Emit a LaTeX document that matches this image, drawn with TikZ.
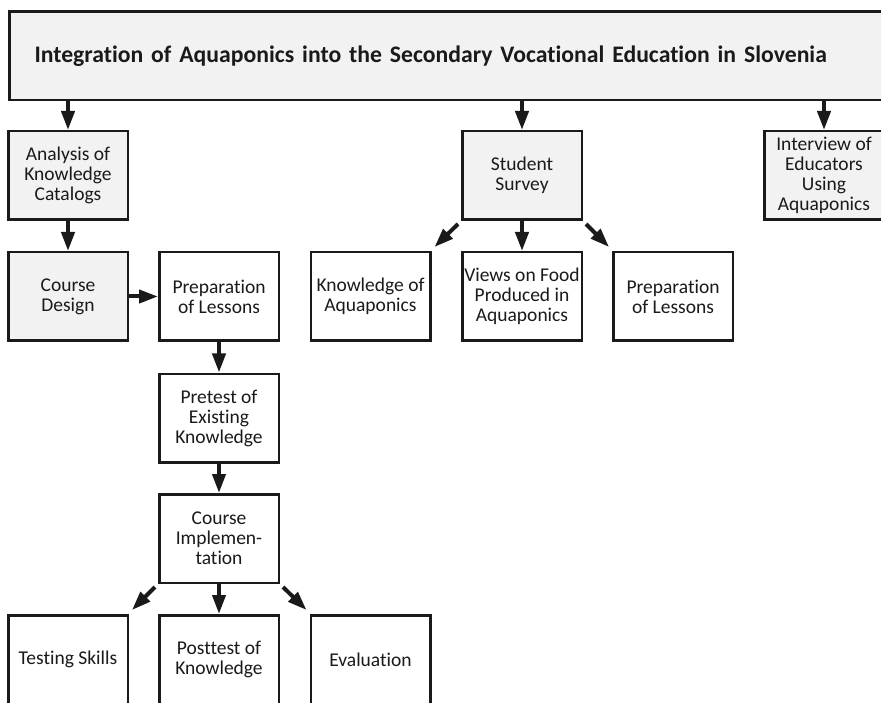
\documentclass[tikz,border=0pt]{standalone}
\usepackage{fontspec}
\setmainfont{Carlito}[Ligatures={NoCommon,NoContextual},Contextuals=NoAlternate]
\usetikzlibrary{arrows.meta,calc}
\definecolor{boxgray}{HTML}{F2F2F2}
\definecolor{ink}{HTML}{1A1A1A}
\begin{document}
\begin{tikzpicture}[x=1pt,y=-1pt,
  box/.style={draw=ink, line width=2.5pt, minimum width=119.5pt, minimum height=88.5pt,
    align=center, inner sep=1pt, font=\fontsize{19.5}{20}\selectfont, text=ink},
  graybox/.style={box, fill=boxgray},
  whitebox/.style={box, fill=white},
  arr/.style={draw=ink, line width=4pt, -{Triangle[length=19pt,width=13pt]}}
]
\useasboundingbox (0,0) rectangle (881,703);
\fill[white] (0,0) rectangle (881,703);

\node[draw=ink, line width=2.5pt, fill=boxgray, anchor=north west, minimum height=88.5pt,
  text width=831pt, inner xsep=25pt, align=left, font=\fontsize{23.7}{26}\bfseries\selectfont, text=ink]
  (title) at (8.25,10.25) {Integration of Aquaponics into the Secondary Vocational Education in Slovenia};

\node[graybox] (akc) at (68,175.5) {Analysis of\\Knowledge\\Catalogs};
\node[graybox] (ss) at (522,175.5) {Student\\Survey};
\node[graybox] (iea) at (824,175.5) {Interview of\\Educators\\Using\\Aquaponics};

\node[graybox] (cd) at (68,296.5) {Course\\Design};
\node[whitebox] (pl1) at (219,296.5) {Preparation\\of Lessons};
\node[whitebox] (ka) at (370.5,296.5) {Knowledge of\\Aquaponics};
\node[whitebox] (vf) at (522,296.5) {Views on Food\\Produced in\\Aquaponics};
\node[whitebox] (pl2) at (673,296.5) {Preparation\\of Lessons};

\node[whitebox] (pt) at (219,418) {Pretest of\\Existing\\Knowledge};
\node[whitebox] (ci) at (219,538.5) {Course\\Implemen-\\tation};

\node[whitebox] (ts) at (68,659.5) {Testing Skills};
\node[whitebox] (pk) at (219,659.5) {Posttest of\\Knowledge};
\node[whitebox] (ev) at (370.5,659.5) {Evaluation};

% connectors
\draw[arr] (title.south -| akc.north) -- (akc.north);
\draw[arr] (title.south -| ss.north) -- (ss.north);
\draw[arr] (title.south -| iea.north) -- (iea.north);
\draw[arr] (akc) -- (cd);
\draw[arr] (cd) -- (pl1);
\draw[arr] (pl1) -- (pt);
\draw[arr] (pt) -- (ci);
\draw[arr] (ss) -- (vf);
\draw[arr] (ci) -- (pk);

\coordinate (ssl) at ($(ss.south west)+(-3,3)$);
\coordinate (kae) at ($(ka.north east)+(3,-4)$);
\coordinate (ssr) at ($(ss.south east)+(3,3)$);
\coordinate (pl2e) at ($(pl2.north west)+(-3,-4)$);
\draw[arr] (ssl) -- (kae);
\draw[arr] (ssr) -- (pl2e);

\coordinate (cil) at ($(ci.south west)+(-3,3)$);
\coordinate (tse) at ($(ts.north east)+(3,-4)$);
\coordinate (cir) at ($(ci.south east)+(3,3)$);
\coordinate (eve) at ($(ev.north west)+(-3,-4)$);
\draw[arr] (cil) -- (tse);
\draw[arr] (cir) -- (eve);
\end{tikzpicture}
\end{document}
